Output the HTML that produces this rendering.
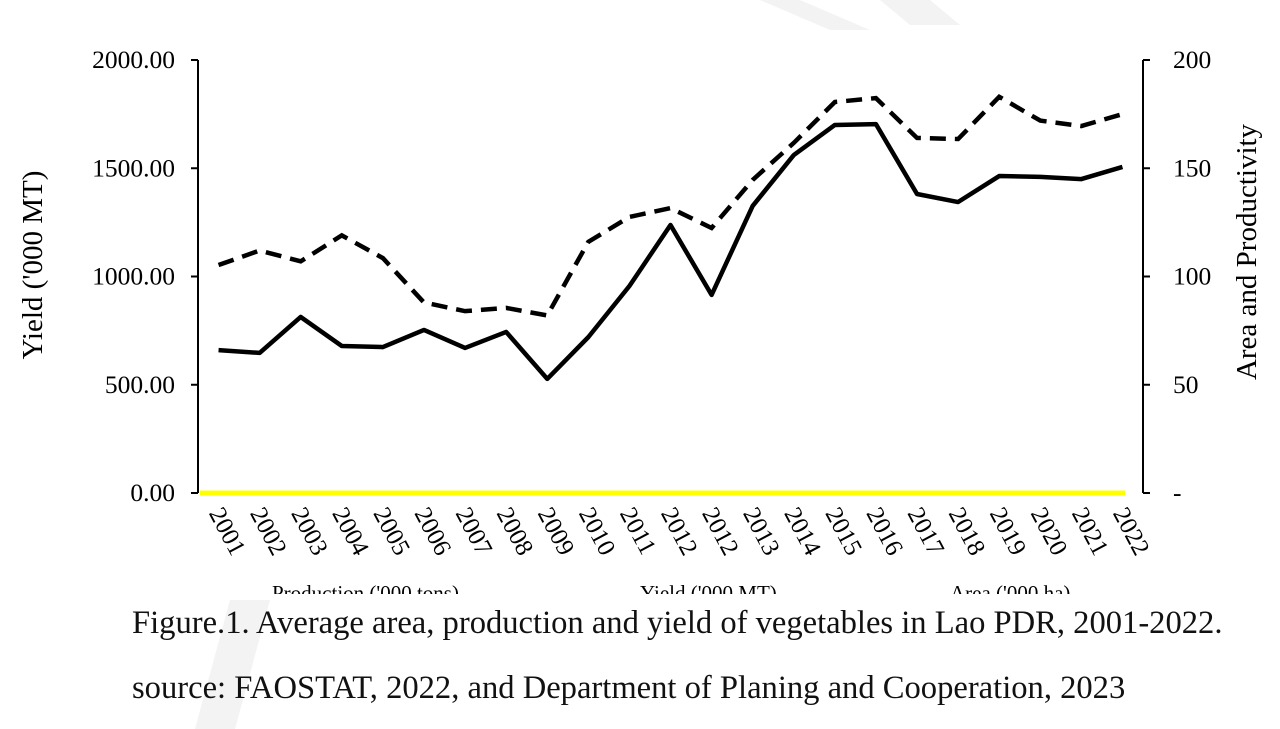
<!DOCTYPE html>
<html><head><meta charset="utf-8"><style>
html,body{margin:0;padding:0;background:#fff;}
svg{display:block;font-family:"Liberation Serif",serif;}
</style></head><body>
<svg width="1280" height="729" viewBox="0 0 1280 729">
<g fill="#f3f3f3">
<polygon points="760,0 800,0 870,30 830,30"/>
<polygon points="880,0 930,0 960,25 910,25"/>
<polygon points="230,600 270,600 235,729 195,729"/>
</g>
<g id="axes"></g>
<g id="marks"></g>
<g id="labels"></g>
<g clip-path="url(#lc)">
<clipPath id="lc"><rect x="0" y="584" width="1280" height="10"/></clipPath>
<text x="272" y="600" font-size="21" fill="#000">Production ('000 tons)</text>
<text x="640" y="600" font-size="21" fill="#000">Yield ('000 MT)</text>
<text x="950" y="600" font-size="21" fill="#000">Area ('000 ha)</text>
</g>
<text x="132" y="633" font-size="32.6" fill="#111">Figure.1. Average area, production and yield of vegetables in Lao PDR, 2001-2022.</text>
<text x="132" y="698" font-size="32.6" fill="#111">source: FAOSTAT, 2022, and Department of Planing and Cooperation, 2023</text>
</svg>
<script>
const categories=["2001","2002","2003","2004","2005","2006","2007","2008","2009","2010","2011","2012","2012","2013","2014","2015","2016","2017","2018","2019","2020","2021","2022"];
const yieldValues=[660,647,813,679,674,753,670,744,527,720,956,1238,915,1326,1561,1700,1704,1381,1344,1464,1460,1450,1506];
const areaValues=[105.3,112,107,119,108.5,88,84,85.5,82,116,127.5,131.6,122.4,144.6,161.7,180.6,182.4,164,163.5,183,172,169.5,175];
const leftTicks=["0.00","500.00","1000.00","1500.00","2000.00"];
const leftTickVals=[0,500,1000,1500,2000];
const rightTicks=["-","50","100","150","200"];
const rightTickVals=[0,50,100,150,200];
const NS="http://www.w3.org/2000/svg";
const X0=198,X1=1143,Y0=493,Y1=60;
const step=(X1-X0)/categories.length;
const xs=i=>X0+step*(i+0.5);
const yL=v=>Y0-(v/2000)*(Y0-Y1);
const yR=v=>Y0-(v/200)*(Y0-Y1);
function mk(t,a,p){const e=document.createElementNS(NS,t);for(const k in a)e.setAttribute(k,a[k]);p.appendChild(e);return e;}
const axes=document.getElementById('axes'),marks=document.getElementById('marks'),labels=document.getElementById('labels');
let e=mk('line',{x1:X0,y1:Y1,x2:X0,y2:Y0,stroke:'#000','stroke-width':2},axes);


e=mk('line',{x1:X1,y1:Y1,x2:X1,y2:Y0,stroke:'#000','stroke-width':2},axes);


leftTickVals.forEach((v,i)=>{
 mk('line',{x1:X0-7,x2:X0,y1:yL(v),y2:yL(v),stroke:'#000','stroke-width':2},axes);
 const t=mk('text',{x:X0-23,y:yL(v)+8,'text-anchor':'end','font-size':25.5},labels);t.textContent=leftTicks[i];
 
 
});
rightTickVals.forEach((v,i)=>{
 mk('line',{x1:X1,x2:X1+7,y1:yR(v),y2:yR(v),stroke:'#000','stroke-width':2},axes);
 const t=mk('text',{x:X1+30,y:yR(v)+8,'font-size':25.5},labels);t.textContent=rightTicks[i];
 
 
});
e=mk('line',{x1:X0+2,y1:Y0,x2:X1-18,y2:Y0,stroke:'#ffff00','stroke-width':5},marks);


e=mk('polyline',{points:yieldValues.map((v,i)=>xs(i)+','+yL(v)).join(' '),fill:'none',stroke:'#000','stroke-width':4.5,'stroke-linejoin':'round'},marks);


e=mk('polyline',{points:areaValues.map((v,i)=>xs(i)+','+yR(v)).join(' '),fill:'none',stroke:'#000','stroke-width':4.5,'stroke-dasharray':'16,9'},marks);


categories.forEach((c,i)=>{
 const x=xs(i)-10,y=513;
 const t=mk('text',{x:x,y:y,'font-size':25,transform:`rotate(62 ${x} ${y})`},labels);t.textContent=c;
 
 
});
let t=mk('text',{x:0,y:0,'font-size':29,'text-anchor':'middle',transform:'translate(42 265) rotate(-90)'},labels);t.textContent="Yield ('000 MT)";


t=mk('text',{x:0,y:0,'font-size':29,'text-anchor':'middle',transform:'translate(1256 252) rotate(-90)'},labels);t.textContent="Area and Productivity";


</script>
</body></html>
